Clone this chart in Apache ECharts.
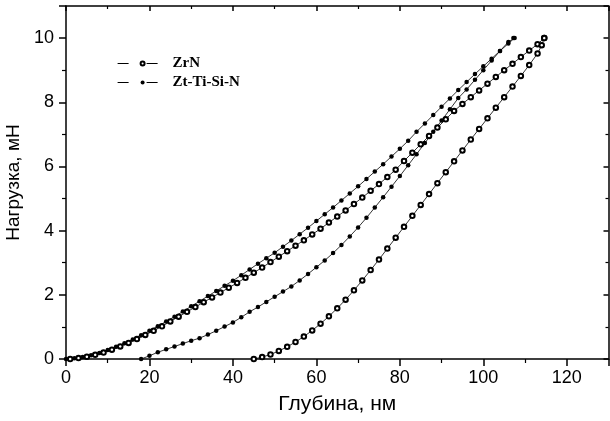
<!DOCTYPE html>
<html>
<head>
<meta charset="utf-8">
<script src="https://cdn.jsdelivr.net/npm/echarts@6/dist/echarts.min.js"></script>
<style>
  html, body { margin: 0; padding: 0; background: #fff; }
  #chart { width: 610px; height: 421px; }
</style>
</head>
<body>
<div id="chart"></div>
<script>
// axis ticks
var xTicks = [0, 20, 40, 60, 80, 100, 120];
var yTicks = [0, 2, 4, 6, 8, 10];

// ZrN: loading branch (depth nm, load mN)
var zrnLoadDepth = [1, 3, 5, 7, 9, 11, 13, 15, 17, 19, 21, 23, 25, 27, 29, 31, 33, 35, 37, 39, 41, 43, 45, 47, 49, 51, 53, 55, 57, 59, 61, 63, 65, 67, 69, 71, 73, 75, 77, 79, 81, 83, 85, 87, 89, 91, 93, 95, 97, 99, 101, 103, 105, 107, 109, 111, 113, 114.6];
var zrnLoadForce = [0, 0.03, 0.07, 0.13, 0.2, 0.29, 0.39, 0.5, 0.62, 0.75, 0.88, 1.02, 1.17, 1.32, 1.47, 1.62, 1.77, 1.92, 2.07, 2.22, 2.37, 2.53, 2.69, 2.85, 3.02, 3.19, 3.36, 3.53, 3.7, 3.88, 4.06, 4.25, 4.44, 4.63, 4.83, 5.03, 5.24, 5.45, 5.67, 5.9, 6.17, 6.43, 6.69, 6.95, 7.21, 7.47, 7.73, 7.95, 8.16, 8.37, 8.58, 8.79, 9.0, 9.2, 9.41, 9.61, 9.81, 10];
// ZrN: unloading branch
var zrnUnloadDepth = [114.6, 114, 113, 111, 109, 107, 105, 103, 101, 99, 97, 95, 93, 91, 89, 87, 85, 83, 81, 79, 77, 75, 73, 71, 69, 67, 65, 63, 61, 59, 57, 55, 53, 51, 49, 47, 45];
var zrnUnloadForce = [10, 9.78, 9.52, 9.16, 8.82, 8.49, 8.16, 7.83, 7.5, 7.17, 6.84, 6.5, 6.16, 5.82, 5.48, 5.14, 4.8, 4.46, 4.12, 3.78, 3.44, 3.1, 2.77, 2.45, 2.14, 1.85, 1.58, 1.33, 1.1, 0.89, 0.7, 0.53, 0.38, 0.25, 0.14, 0.06, 0];

// Zt-Ti-Si-N: loading branch
var ztsLoadDepth = [0, 2, 4, 6, 8, 10, 12, 14, 16, 18, 20, 22, 24, 26, 28, 30, 32, 34, 36, 38, 40, 42, 44, 46, 48, 50, 52, 54, 56, 58, 60, 62, 64, 66, 68, 70, 72, 74, 76, 78, 80, 82, 84, 86, 88, 90, 92, 94, 96, 98, 100, 102, 104, 106, 107.5];
var ztsLoadForce = [0, 0.02, 0.06, 0.12, 0.19, 0.28, 0.38, 0.49, 0.61, 0.74, 0.88, 1.02, 1.17, 1.32, 1.48, 1.64, 1.8, 1.96, 2.12, 2.28, 2.44, 2.61, 2.79, 2.97, 3.14, 3.31, 3.5, 3.69, 3.89, 4.09, 4.3, 4.51, 4.72, 4.94, 5.16, 5.38, 5.61, 5.84, 6.07, 6.31, 6.55, 6.8, 7.08, 7.34, 7.6, 7.86, 8.12, 8.38, 8.63, 8.88, 9.12, 9.36, 9.6, 9.83, 10];
// Zt-Ti-Si-N: unloading branch
var ztsUnloadDepth = [107.2, 106, 104, 102, 100, 98, 96, 94, 92, 90, 88, 86, 84, 82, 80, 78, 76, 74, 72, 70, 68, 66, 64, 62, 60, 58, 56, 54, 52, 50, 48, 46, 44, 42, 40, 38, 36, 34, 32, 30, 28, 26, 24, 22, 20, 18];
var ztsUnloadForce = [10, 9.88, 9.6, 9.3, 9.0, 8.7, 8.4, 8.13, 7.78, 7.43, 7.08, 6.73, 6.38, 6.04, 5.7, 5.37, 5.04, 4.72, 4.4, 4.1, 3.82, 3.55, 3.3, 3.07, 2.86, 2.65, 2.45, 2.26, 2.1, 1.94, 1.78, 1.62, 1.47, 1.3, 1.14, 1.01, 0.88, 0.76, 0.65, 0.57, 0.48, 0.39, 0.3, 0.21, 0.1, 0];

function zip(xs, ys) {
  var out = [];
  for (var i = 0; i < xs.length; i++) out.push([xs[i], ys[i]]);
  return out;
}

var zrnData = zip(zrnLoadDepth, zrnLoadForce).concat(zip(zrnUnloadDepth, zrnUnloadForce));
var ztsData = zip(ztsLoadDepth, ztsLoadForce).concat(zip(ztsUnloadDepth, ztsUnloadForce));

var font = "Liberation Sans, Arial, sans-serif";

function isTick(list) {
  return function (v) { return list.indexOf(v) >= 0 ? String(v) : ""; };
}

// bottom / left axes: ticks outside, labels
function mainAxis(extra) {
  return Object.assign({
    type: "value",
    axisLine: { show: true, onZero: false, lineStyle: { color: "#000", width: 1.5 } },
    axisTick: { show: true, inside: false, length: 7, lineStyle: { color: "#000", width: 1.5 } },
    minorTick: { show: true, splitNumber: 2, length: 4, lineStyle: { color: "#000", width: 1.2 } },
    splitLine: { show: false }
  }, extra);
}
// top / right mirror axes: ticks inside, no labels
function mirrorAxis(extra) {
  return Object.assign({
    type: "value",
    axisLine: { show: true, onZero: false, lineStyle: { color: "#000", width: 1.5 } },
    axisTick: { show: true, inside: true, length: 5, lineStyle: { color: "#000", width: 1.5 } },
    minorTick: { show: true, splitNumber: 2, length: 3, lineStyle: { color: "#000", width: 1.2 } },
    axisLabel: { show: false },
    splitLine: { show: false }
  }, extra);
}

var chart = echarts.init(document.getElementById("chart"));
chart.setOption({
  animation: false,
  backgroundColor: "#fff",
  grid: { left: 66, right: 1.5, top: 6, bottom: 62, outerBoundsMode: "none", containLabel: false },
  legend: {
    orient: "vertical",
    left: 112,
    top: 51,
    itemWidth: 50,
    itemHeight: 5,
    itemGap: 4,
    lineStyle: { width: 1.2, type: [11, 18, 11, 30] },
    textStyle: { fontFamily: "Liberation Serif, Times New Roman, serif", fontWeight: "bold", fontSize: 15, color: "#000" },
    data: ["ZrN", "Zt-Ti-Si-N"]
  },
  xAxis: [
    mainAxis({
      position: "bottom", min: 0, max: 130, interval: 20,
      name: "Глубина, нм", nameLocation: "middle", nameGap: 35,
      nameTextStyle: { fontFamily: font, fontSize: 21, color: "#000" },
      axisLabel: { fontFamily: font, fontSize: 18, color: "#000", margin: 10, formatter: isTick(xTicks) }
    }),
    mirrorAxis({ position: "top", min: 0, max: 130, interval: 20 })
  ],
  yAxis: [
    mainAxis({
      position: "left", min: 0, max: 11, interval: 2,
      name: "Нагрузка, мН", nameLocation: "middle", nameGap: 34,
      nameTextStyle: { fontFamily: font, fontSize: 19, color: "#000" },
      axisLabel: { fontFamily: font, fontSize: 18, color: "#000", margin: 12, formatter: isTick(yTicks) }
    }),
    mirrorAxis({ position: "right", min: 0, max: 11, interval: 2 })
  ],
  series: [
    {
      name: "ZrN",
      type: "line",
      data: zrnData,
      symbol: "emptyCircle",
      symbolSize: 4.5,
      showAllSymbol: true,
      itemStyle: { color: "#000", borderWidth: 1 },
      lineStyle: { color: "#000", width: 0.8 }
    },
    {
      name: "Zt-Ti-Si-N",
      type: "line",
      data: ztsData,
      symbol: "circle",
      symbolSize: 4.5,
      showAllSymbol: true,
      itemStyle: { color: "#000" },
      lineStyle: { color: "#000", width: 0.8 }
    }
  ]
});
</script>
</body>
</html>
